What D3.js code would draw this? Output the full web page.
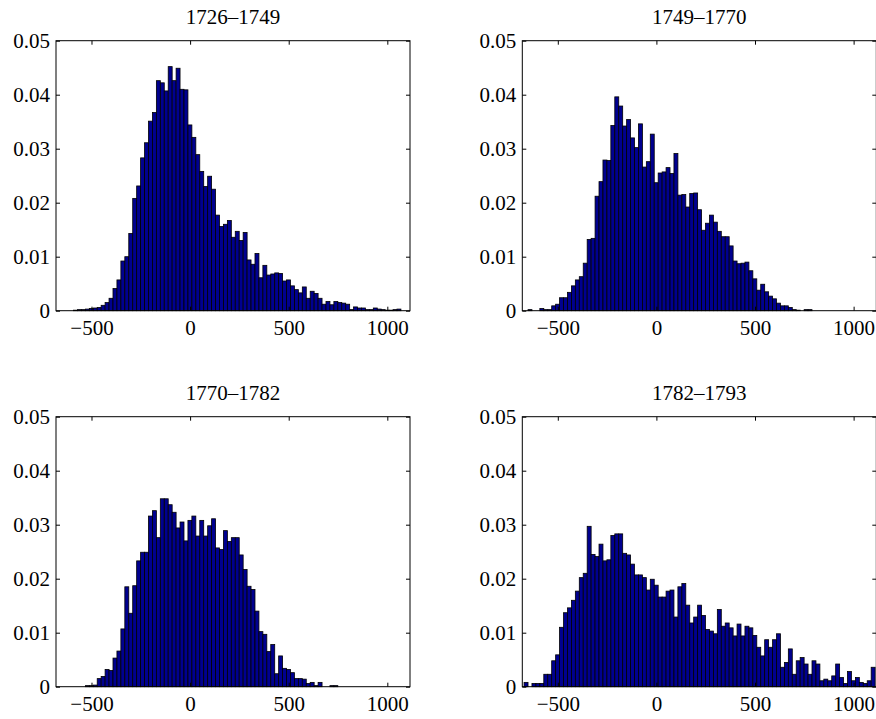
<!DOCTYPE html>
<html>
<head>
<meta charset="utf-8">
<script src="https://cdn.jsdelivr.net/npm/d3@7"></script>
<style>
  body { margin: 0; background: #fff; }
  text { font-family: "Liberation Serif", "DejaVu Serif", serif; fill: #000; }
</style>
</head>
<body>
<div id="chart"></div>
<script>
// histogram bins: 89 bins of width 20 starting at -671
const binStart = -671;
const binWidth = 20;
const binCount = 89;

const titles = ['1726–1749', '1749–1770', '1770–1782', '1782–1793'];

const freq1726 = [
  0, 0, 0, 0, 0.0001, 0.0002, 0.0002, 0.0003, 0.0004, 0.0005,
  0.0006, 0.0010, 0.0015, 0.0023, 0.0041, 0.0057, 0.0092, 0.0100, 0.0143, 0.0208,
  0.0231, 0.0283, 0.0311, 0.0351, 0.0367, 0.0426, 0.0422, 0.0407, 0.0452, 0.0426,
  0.0449, 0.0410, 0.0409, 0.0344, 0.0321, 0.0289, 0.0258, 0.0230, 0.0249, 0.0225,
  0.0177, 0.0156, 0.0160, 0.0167, 0.0136, 0.0147, 0.0130, 0.0145, 0.0094, 0.0086,
  0.0106, 0.0061, 0.0084, 0.0066, 0.0068, 0.0070, 0.0069, 0.0055, 0.0057, 0.0046,
  0.0039, 0.0033, 0.0044, 0.0023, 0.0036, 0.0032, 0.0023, 0.0012, 0.0017, 0.0011,
  0.0017, 0.0015, 0.0014, 0.0012, 0.0002, 0.0007, 0.0005, 0.0005, 0.0002, 0.0002,
  0.0005, 0.0003, 0.0002, 0.0001, 0.0001, 0.0002, 0.0003, 0, 0
];

const freq1749 = [
  0, 0.0002, 0, 0, 0.0004, 0.0002, 0.0002, 0.0009, 0.0012, 0.0024,
  0.0024, 0.0034, 0.0046, 0.0057, 0.0063, 0.0088, 0.0132, 0.0134, 0.0212, 0.0239,
  0.0279, 0.0278, 0.0343, 0.0396, 0.0379, 0.0342, 0.0354, 0.0320, 0.0302, 0.0346,
  0.0266, 0.0276, 0.0327, 0.0237, 0.0255, 0.0257, 0.0265, 0.0254, 0.0291, 0.0214,
  0.0215, 0.0192, 0.0217, 0.0218, 0.0187, 0.0149, 0.0162, 0.0177, 0.0164, 0.0147,
  0.0137, 0.0137, 0.0120, 0.0092, 0.0087, 0.0088, 0.0090, 0.0074, 0.0059, 0.0038,
  0.0049, 0.0035, 0.0027, 0.0022, 0.0014, 0.0009, 0.0009, 0.0006, 0.0002, 0.0001,
  0, 0.0002, 0.0002, 0, 0, 0, 0, 0, 0, 0,
  0, 0, 0, 0, 0, 0, 0, 0, 0
];

const freq1770 = [
  0, 0, 0, 0, 0, 0, 0, 0.0002, 0.0002, 0.0003,
  0.0015, 0.0019, 0.0032, 0.0030, 0.0053, 0.0066, 0.0107, 0.0185, 0.0136, 0.0187,
  0.0233, 0.0249, 0.0249, 0.0316, 0.0326, 0.0276, 0.0348, 0.0348, 0.0337, 0.0323,
  0.0294, 0.0305, 0.0270, 0.0308, 0.0316, 0.0279, 0.0308, 0.0279, 0.0298, 0.0311,
  0.0257, 0.0254, 0.0289, 0.0269, 0.0276, 0.0276, 0.0244, 0.0217, 0.0186, 0.0180,
  0.0140, 0.0102, 0.0097, 0.0065, 0.0078, 0.0024, 0.0057, 0.0034, 0.0032, 0.0026,
  0.0015, 0.0015, 0.0014, 0.0006, 0.0008, 0.0002, 0.0008, 0, 0, 0.0002,
  0.0002, 0, 0, 0, 0, 0, 0, 0, 0, 0,
  0, 0, 0, 0, 0, 0, 0, 0, 0
];

const freq1782 = [
  0.0008, 0, 0.0006, 0.0006, 0.0006, 0.0023, 0.0023, 0.0048, 0.0059, 0.0110,
  0.0137, 0.0146, 0.0160, 0.0177, 0.0202, 0.0210, 0.0297, 0.0245, 0.0241, 0.0264,
  0.0233, 0.0235, 0.0280, 0.0283, 0.0283, 0.0247, 0.0244, 0.0227, 0.0207, 0.0207,
  0.0202, 0.0179, 0.0199, 0.0188, 0.0166, 0.0166, 0.0177, 0.0179, 0.0129, 0.0185,
  0.0191, 0.0151, 0.0118, 0.0129, 0.0151, 0.0132, 0.0106, 0.0103, 0.0098, 0.0143,
  0.0112, 0.0118, 0.0109, 0.0094, 0.0116, 0.0094, 0.0112, 0.0109, 0.0095, 0.0073,
  0.0057, 0.0087, 0.0073, 0.0087, 0.0098, 0.0036, 0.0045, 0.0070, 0.0023, 0.0048,
  0.0054, 0.0042, 0.0023, 0.0048, 0.0042, 0.0011, 0.0014, 0.0011, 0.0020, 0.0042,
  0.0017, 0.0006, 0.0028, 0.0011, 0.0017, 0.0008, 0.0006, 0.0011, 0.0036
];

const xTicks = [-500, 0, 500, 1000];
const yTicks = [0, 0.01, 0.02, 0.03, 0.04, 0.05];

const svg = d3.select('#chart').append('svg')
    .attr('width', 876)
    .attr('height', 719);

const width = 354, height = 270;

const x = d3.scaleLinear().domain([-680, 1115]).range([0, width]);
const y = d3.scaleLinear().domain([0, 0.05]).range([height, 0]);

const panels = [
  {left: 56, top: 40.7, freq: freq1726, title: titles[0]},
  {left: 522.3, top: 40.7, freq: freq1749, title: titles[1]},
  {left: 56, top: 416.7, freq: freq1770, title: titles[2]},
  {left: 522.3, top: 416.7, freq: freq1782, title: titles[3]}
];

const fmtX = d => d < 0 ? '\u2212' + Math.abs(d) : String(d);
const fmtY = d => d === 0 ? '0' : d3.format('.2f')(d);

panels.forEach(p => {
  const g = svg.append('g')
      .attr('transform', `translate(${p.left},${p.top})`);

  const bins = p.freq.map((v, i) => ({x0: binStart + i * binWidth, x1: binStart + (i + 1) * binWidth, v: v}));

  g.selectAll('rect.bar')
    .data(bins)
    .enter().append('rect')
      .attr('class', 'bar')
      .attr('x', d => x(d.x0))
      .attr('width', d => x(d.x1) - x(d.x0))
      .attr('y', d => y(d.v))
      .attr('height', d => y(0) - y(d.v))
      .attr('fill', '#00008f')
      .attr('stroke', '#000')
      .attr('stroke-width', 0.8);

  // inward ticks on all four sides
  const bottom = g.append('g')
      .attr('transform', `translate(0,${height})`)
      .call(d3.axisBottom(x).tickValues(xTicks).tickSize(-4).tickPadding(9.5).tickFormat(fmtX));
  const top = g.append('g')
      .call(d3.axisTop(x).tickValues(xTicks).tickSize(-4).tickFormat(''));
  const left = g.append('g')
      .call(d3.axisLeft(y).tickValues(yTicks).tickSize(-4).tickPadding(6).tickFormat(fmtY));
  const right = g.append('g')
      .attr('transform', `translate(${width},0)`)
      .call(d3.axisRight(y).tickValues(yTicks).tickSize(-4).tickFormat(''));

  [bottom, top, left, right].forEach(a => {
    a.select('.domain').remove();
    a.selectAll('line').attr('stroke', '#000');
    a.selectAll('text')
      .style('font-family', '"Liberation Serif", "DejaVu Serif", serif')
      .style('font-size', '21px')
      .attr('fill', '#000');
  });

  g.append('rect')
    .attr('width', width)
    .attr('height', height)
    .attr('fill', 'none')
    .attr('stroke', '#000')
    .attr('stroke-width', 1);

  g.append('text')
    .attr('x', width / 2)
    .attr('y', -16.7)
    .attr('text-anchor', 'middle')
    .style('font-size', '21px')
    .text(p.title);
});
</script>
</body>
</html>
